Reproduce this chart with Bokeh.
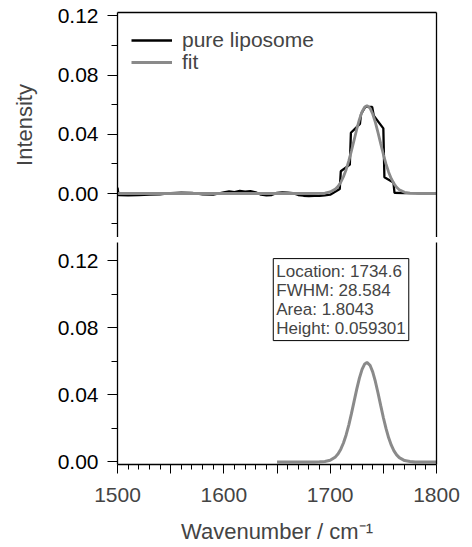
from bokeh.plotting import figure
from bokeh.layouts import column
from bokeh.models import (Range1d, LinearAxis, FixedTicker, NumeralTickFormatter,
                          Legend, LegendItem, Label)
from bokeh.embed import file_html
from bokeh.resources import INLINE

# ---------------- data ----------------
# measured spectrum (pure liposome)
spec_x = [1500, 1501, 1510, 1520, 1530, 1540, 1550, 1560, 1570, 1580, 1590,
          1600, 1605, 1610, 1615, 1620, 1625, 1630, 1635, 1640, 1645, 1650,
          1655, 1660, 1665, 1670, 1675, 1680, 1685, 1690, 1695, 1700,
          1709, 1710, 1718.5, 1719.5, 1728, 1729, 1733, 1739.5, 1741,
          1750, 1751, 1759.5, 1760.5, 1770, 1780, 1790, 1800]
spec_y = [0.004, -0.001, -0.0012, -0.0010, -0.0008, -0.0005, 0.0002, 0.0006, 0.0004, -0.0006, -0.0008,
          0.0008, 0.0015, 0.0010, 0.0018, 0.0012, 0.0016, 0.0008, -0.0008, -0.0012, -0.0010, 0.0004,
          0.0008, 0.0006, 0.0002, -0.0010, -0.0015, -0.0018, -0.0016, -0.0015, -0.0012, -0.0008,
          0.003, 0.0150, 0.0195, 0.0410, 0.0470, 0.0535, 0.0585, 0.0585, 0.0525,
          0.0440, 0.0110, 0.0075, 0.0005, 0.0003, 0.0002, 0.0, 0.0]

# fitted peak
fit_x = [1500, 1550, 1600, 1650, 1655, 1660, 1665, 1670, 1675, 1680, 1685, 1690, 1695,
         1700, 1705, 1707.5, 1710, 1712.5, 1715, 1717.5, 1720, 1722.5, 1725, 1727.5,
         1730, 1732.5, 1734.6, 1737.5, 1740, 1742.5, 1745, 1747.5, 1750, 1752.5,
         1755, 1757.5, 1760, 1762.5, 1765, 1770, 1775, 1780, 1785, 1790, 1795, 1800]
fit_y = [0.0, 0.0, 0.0, 0.0, 0.0, 0.0, 0.0, 0.0, 0.0, 0.000002, 0.000014, 0.00007, 0.00029,
         0.00102, 0.00303, 0.0049, 0.00761, 0.01131, 0.0161, 0.02198, 0.0288, 0.03608, 0.0434, 0.04998,
         0.0552, 0.05842, 0.0593, 0.05763, 0.0537, 0.04798, 0.0411, 0.03371, 0.0265, 0.01999,
         0.0144, 0.0100, 0.00665, 0.00423, 0.00258, 0.00084, 0.00023, 0.00005, 0.00001, 0.0, 0.0, 0.0]

peak_start = 1650
fit_params = ["Location: 1734.6", "FWHM: 28.584", "Area: 1.8043", "Height: 0.059301"]

y_major = [0.0, 0.04, 0.08, 0.12]
y_minor_top = [-0.02, 0.02, 0.06, 0.10]
y_minor_bot = [0.02, 0.06, 0.10]
x_major = [1500, 1550, 1600, 1650, 1700, 1750, 1800]
x_minor = [v for v in range(1500, 1801, 10) if v % 50 != 0]

legend_labels = ["pure liposome", "fit"]
x_title = "Wavenumber / cm\u207b\u00b9"
y_title = "Intensity"

# ---------------- styling ----------------
FONT = "Liberation Sans"
TICK_FS = "21px"
TITLE_FS = "22px"
LEGEND_FS = "21px"
BLACK = "#000000"
GRAY = "#8a8a8a"

LEFT = 117
FRAME_W = 319
RIGHT = 28


def style_left_axis(ax, minor):
    ax.ticker = FixedTicker(ticks=y_major, minor_ticks=minor)
    ax.formatter = NumeralTickFormatter(format="0.00")
    ax.major_tick_in = 0
    ax.major_tick_out = 10
    ax.minor_tick_in = 0
    ax.minor_tick_out = 6
    ax.major_label_text_font = FONT
    ax.major_label_text_font_size = TICK_FS
    ax.major_label_text_color = BLACK
    ax.major_label_standoff = 9
    ax.axis_line_color = BLACK
    ax.major_tick_line_color = BLACK
    ax.minor_tick_line_color = BLACK
    ax.axis_line_width = 1.3


def plain_axis():
    return LinearAxis(ticker=FixedTicker(ticks=[]), major_tick_in=0, major_tick_out=0,
                      minor_tick_in=0, minor_tick_out=0, axis_line_color=BLACK,
                      axis_line_width=1.3, major_label_text_font_size="0px")


def make_legend(label, renderer, loc):
    return Legend(items=[LegendItem(label=label, renderers=[renderer])],
                  location=loc, glyph_width=41, glyph_height=20, label_height=20,
                  label_standoff=10, padding=0, margin=0, spacing=0,
                  label_text_font=FONT, label_text_font_size=LEGEND_FS,
                  border_line_color=None, background_fill_alpha=0)


# ---------------- top panel ----------------
p1 = figure(frame_width=FRAME_W, frame_height=225, output_backend="svg", toolbar_location=None,
            x_range=Range1d(1500, 1800), y_range=Range1d(-0.0297, 0.1222),
            x_axis_location=None, min_border_left=LEFT, min_border_right=RIGHT,
            min_border_top=12, min_border_bottom=0)
p1.grid.visible = False
p1.outline_line_color = None
p1.background_fill_color = "white"
style_left_axis(p1.yaxis[0], y_minor_top)
p1.yaxis[0].axis_label = y_title
p1.yaxis[0].axis_label_text_font = FONT
p1.yaxis[0].axis_label_text_font_size = TITLE_FS
p1.yaxis[0].axis_label_text_font_style = "normal"
p1.yaxis[0].axis_label_standoff = 18
p1.add_layout(plain_axis(), "above")
p1.add_layout(plain_axis(), "right")

r_spec = p1.line(spec_x, spec_y, line_color=BLACK, line_width=2.3)
r_fit = p1.line(fit_x, fit_y, line_color=GRAY, line_width=2.8)

p1.add_layout(make_legend(legend_labels[0], r_spec, (14, 185)))
p1.add_layout(make_legend(legend_labels[1], r_fit, (14, 163)))

# ---------------- bottom panel ----------------
p2 = figure(frame_width=FRAME_W, frame_height=222, output_backend="svg", toolbar_location=None,
            x_range=Range1d(1500, 1800), y_range=Range1d(-0.0015, 0.1308),
            min_border_left=LEFT, min_border_right=RIGHT,
            min_border_top=5, min_border_bottom=82)
p2.grid.visible = False
p2.outline_line_color = None
p2.background_fill_color = "white"
style_left_axis(p2.yaxis[0], y_minor_bot)
p2.add_layout(plain_axis(), "right")

xa = p2.xaxis[0]
xa.ticker = FixedTicker(ticks=x_major, minor_ticks=x_minor)
xa.major_label_overrides = {1550: "", 1650: "", 1750: ""}
xa.major_tick_in = 0
xa.major_tick_out = 9
xa.minor_tick_in = 0
xa.minor_tick_out = 5
xa.major_label_text_font = FONT
xa.major_label_text_font_size = TICK_FS
xa.major_label_standoff = 14
xa.axis_line_color = BLACK
xa.axis_line_width = 1.3
xa.axis_label = x_title
xa.axis_label_text_font = FONT
xa.axis_label_text_font_size = TITLE_FS
xa.axis_label_text_font_style = "normal"
xa.axis_label_standoff = 14

bx = [x for x in fit_x if x >= peak_start]
by = [y for x, y in zip(fit_x, fit_y) if x >= peak_start]
p2.line(bx, by, line_color=GRAY, line_width=3)

info = Label(x=1646.5, y=0.1212, x_units="data", y_units="data", anchor="top_left",
             text="\n".join(fit_params), text_font=FONT, text_font_size="17px",
             text_line_height=1.0, border_line_color=BLACK, border_line_width=1,
             background_fill_color="white", padding=3)
p2.add_layout(info)

layout = column(p1, p2, spacing=0)
open("out.html", "w").write(file_html(layout, INLINE))
